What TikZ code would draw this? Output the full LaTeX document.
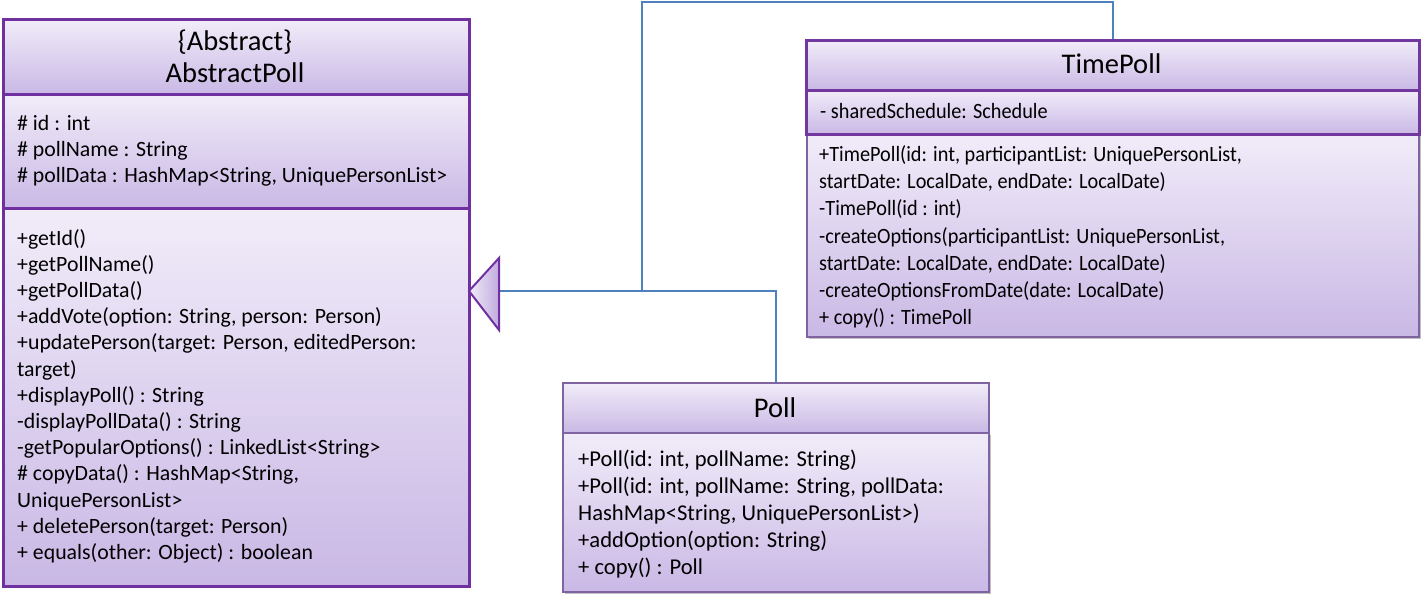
\documentclass[tikz,border=0pt]{standalone}
\usepackage{fontspec}
\setmainfont{Carlito}
\newfontfamily\narrowfont[FakeStretch=0.93]{Carlito}
\usetikzlibrary{shadows}
\definecolor{apborder}{RGB}{112,48,160}
\definecolor{lborder}{RGB}{128,100,162}
\definecolor{gtop}{RGB}{241,236,249}
\definecolor{gbot}{RGB}{201,184,229}
\definecolor{linkblue}{RGB}{79,129,189}
\tikzset{
  comp/.style={draw, rectangle, top color=gtop, bottom color=gbot, anchor=north west, inner sep=0pt},
  thickcomp/.style={comp, draw=apborder, line width=3pt},
  thincomp/.style={comp, draw=lborder, line width=2pt},
  shadowed/.style={drop shadow={shadow xshift=2pt, shadow yshift=-2pt, opacity=0.35, fill=black!70}},
  title/.style={align=center, inner sep=0pt, font=\fontsize{28.5}{32}\selectfont},
  body/.style={align=left, inner sep=0pt, anchor=north west, font=\fontsize{21.8}{26.2}\selectfont},
  link/.style={draw=linkblue, line width=2pt},
  gen/.style={draw=apborder, line width=2pt, left color=gtop, right color=gbot!90!apborder, line join=miter}
}
\begin{document}
\begin{tikzpicture}[x=1pt,y=-1pt]
\useasboundingbox (0,0) rectangle (1426,605);
% AbstractPoll
\node[thickcomp, minimum width=466pt, minimum height=75pt] (apHead) at (2,18) {};
\node[thickcomp, minimum width=466pt, minimum height=114pt] (apAttr) at (2,93) {};
\node[thickcomp, minimum width=466pt, minimum height=378pt] (apMeth) at (2,207) {};
\node[title] (apTitle) at (235,56) {\{Abstract\}\\AbstractPoll};
\node[body] (apAttrText) at (17,115) {\# id : int\\\# pollName : String\\\# pollData : HashMap<String, UniquePersonList>};
\node[body] (apMethText) at (17,229) {+getId()\\+getPollName()\\+getPollData()\\+addVote(option: String, person: Person)\\+updatePerson(target: Person, editedPerson:\\target)\\+displayPoll() : String\\-displayPollData() : String\\-getPopularOptions() : LinkedList<String>\\\# copyData() : HashMap<String,\\UniquePersonList>\\+ deletePerson(target: Person)\\+ equals(other: Object) : boolean};
% TimePoll
\node[thincomp, shadowed, minimum width=612pt, minimum height=203pt] (tpMeth) at (806,133) {};
\node[thickcomp, draw=apborder!85!lborder, line width=2.5pt, minimum width=613pt, minimum height=50pt] (tpHead) at (805,39) {};
\node[thickcomp, draw=apborder!85!lborder, line width=2.5pt, minimum width=613pt, minimum height=44pt] (tpAttr) at (805,89) {};
\node[title] (tpTitle) at (1111.5,64) {TimePoll};
\node[body, anchor=west, font=\narrowfont\fontsize{21.8}{27.3}\selectfont] (tpAttrText) at (820,111) {- sharedSchedule: Schedule};
\node[body, font=\narrowfont\fontsize{21.8}{27.3}\selectfont] (tpMethText) at (819,145) {+TimePoll(id: int, participantList: UniquePersonList,\\startDate: LocalDate, endDate: LocalDate)\\-TimePoll(id : int)\\-createOptions(participantList: UniquePersonList,\\startDate: LocalDate, endDate: LocalDate)\\-createOptionsFromDate(date: LocalDate)\\+ copy() : TimePoll};
% Poll
\node[thincomp, shadowed, minimum width=426pt, minimum height=159pt] (pMeth) at (562,432) {};
\node[thincomp, minimum width=426pt, minimum height=50pt] (pHead) at (562,382) {};
\node[title] (pTitle) at (775,408) {Poll};
\node[body, font=\fontsize{22.6}{27}\selectfont] (pMethText) at (578,450) {+Poll(id: int, pollName: String)\\+Poll(id: int, pollName: String, pollData:\\HashMap<String, UniquePersonList>)\\+addOption(option: String)\\+ copy() : Poll};
% connectors
\coordinate (tip) at (469,291);
\coordinate (tbase) at (499,291);
\coordinate (tbaseTop) at (499,258);
\coordinate (tbaseBot) at (499,330);
\coordinate (junc) at (642,291);
\coordinate (topRun) at (642,2);
\draw[link] (tbase) -- (junc) -| (pHead.north);
\draw[link] (junc) -- (topRun) -| (tpHead.north);
\draw[gen] (tip) -- (tbaseTop) -- (tbaseBot) -- cycle;
\end{tikzpicture}
\end{document}
